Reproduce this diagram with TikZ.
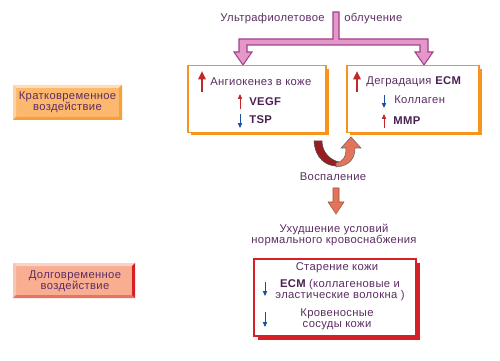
\documentclass[tikz,border=0pt]{standalone}
\usepackage{fontspec}
\setmainfont{Liberation Sans}[LetterSpace=3]
\usetikzlibrary{arrows.meta,shadows}

\definecolor{txtpurple}{HTML}{5B2C62}
\definecolor{boldpurple}{HTML}{4A1F52}
\definecolor{boxorange}{HTML}{F7941D}
\definecolor{boxred}{HTML}{D91F26}
\definecolor{uvpink}{HTML}{E597C8}
\definecolor{uvline}{HTML}{A0428F}
\definecolor{arrred}{HTML}{C1272D}
\definecolor{arrblue}{HTML}{1B4F9C}
\definecolor{infldark}{HTML}{9B1C20}
\definecolor{inflsalmon}{HTML}{E3735A}
\definecolor{shortfill}{HTML}{FDB870}
\definecolor{shortlight}{HTML}{FEDDB8}
\definecolor{shortdark}{HTML}{F7A035}
\definecolor{longfill}{HTML}{F9AE92}
\definecolor{longlight}{HTML}{FBD3C5}
\definecolor{longdark}{HTML}{E8735E}

\begin{document}
\begin{tikzpicture}[x=0.02cm, y=-0.02cm, >=latex]

% --- Styles ---
\tikzset{
    txt/.style={text=txtpurple, font=\fontsize{6.4}{6.3}\selectfont, inner sep=0pt},
    boldtxt/.style={text=boldpurple, font=\fontsize{6.4}{6.3}\selectfont\bfseries, inner sep=0pt},
    topbox/.style={draw=boxorange, line width=0.6pt, fill=white,
        drop shadow={fill=boxorange, opacity=1, shadow xshift=0.06cm, shadow yshift=-0.06cm}},
    longbox/.style={draw=boxred, line width=0.6pt, fill=white,
        drop shadow={fill=boxred, opacity=1, shadow xshift=0.08cm, shadow yshift=-0.08cm}},
    bigup/.style={draw=arrred, line width=1.2pt, -{Triangle[length=4.8pt,width=4.2pt]}},
    smallup/.style={draw=arrred, line width=0.5pt, -{Triangle[length=2.8pt,width=2.4pt]}},
    smalldown/.style={draw=arrblue, line width=0.5pt, -{Triangle[length=2.8pt,width=2.4pt]}},
    blockarrow/.style={fill=uvpink, draw=uvline, line width=0.6pt, line join=miter}
}

\useasboundingbox (0,0) rectangle (500,361);

% --- UV-облучение (T-pijl) ---
\node[txt, anchor=east] (uvleft) at (325,19) {Ультрафиолетовое};
\node[txt, anchor=west] (uvright) at (344,19) {облучение};
\path[blockarrow] (333,12) -- (339,12) -- (339,39) -- (428,39) -- (428,52) -- (433,52)
    -- (424,65) -- (415,52) -- (420,52) -- (420,45) -- (247,45) -- (247,52) -- (252,52)
    -- (243,65) -- (234,52) -- (239,52) -- (239,39) -- (333,39) -- cycle;

% --- Box links: angiogenese ---
\node[topbox, minimum width=2.76cm, minimum height=1.34cm] (angio) at (257,99) {};
\draw[bigup] (202,92) -- (202,71);
\node[txt, anchor=west] (angiotxt) at (210,82) {Ангиокенез в коже};
\draw[smallup] (240,109) -- (240,94);
\node[boldtxt, anchor=west] (vegf) at (249,102) {VEGF};
\draw[smalldown] (240,114) -- (240,128);
\node[boldtxt, anchor=west] (tsp) at (249,120) {TSP};

% --- Box rechts: ECM ---
\node[topbox, minimum width=2.64cm, minimum height=1.34cm] (ecm) at (413,99) {};
\draw[bigup] (357,92) -- (357,71);
\node[txt, anchor=west] (ecmtxt) at (366,82) {Деградация \textbf{\color{boldpurple}ECM}};
\draw[smalldown] (384,95) -- (384,108);
\node[txt, anchor=west] (collagen) at (394,100) {Коллаген};
\draw[smallup] (384,128) -- (384,114);
\node[boldtxt, anchor=west] (mmp) at (393,121) {MMP};

% --- Ontsteking (gebogen pijlen) ---
\path[fill=infldark, draw=black!70, line width=0.3pt]
    (314,141) .. controls (315,158) and (326,167) .. (339,166)
    -- (339,162) .. controls (330,160) and (322,152) .. (322,141) -- cycle;
\path[fill=inflsalmon, draw=black!60, line width=0.3pt]
    (336,167) .. controls (350,166) and (355,158) .. (355,148)
    -- (361,148) -- (351,137) -- (341,148) -- (346,148)
    .. controls (346,157) and (343,162) .. (336,163) -- cycle;
\node[txt] (inflam) at (333,177) {Воспаление};

\path[fill=inflsalmon, draw=inflsalmon!70!black, line width=0.3pt]
    (333,188) -- (339,188) -- (339,202) -- (344,202) -- (336,214) -- (328,202) -- (333,202) -- cycle;
\node[txt, align=center] (blood) at (334,235) {Ухудшение условий\\нормального кровоснабжения};

% --- Box onder: veroudering ---
\node[longbox, minimum width=3.24cm, minimum height=1.54cm] (aging) at (335,297.5) {};
\node[txt] (agingtxt) at (337,268) {Старение кожи};
\draw[smalldown] (265,282) -- (265,296);
\node[txt, align=center] (fibres) at (340,290) {\textbf{\color{boldpurple}ECM} (коллагеновые и\\эластические волокна )};
\draw[smalldown] (265,312) -- (265,327);
\node[txt, align=center] (vessels) at (337,319.5) {Кровеносные\\сосуды кожи};

% --- Labels links ---
\fill[shortfill] (13,85) rectangle (122,120);
\fill[shortlight] (13,85) -- (122,85) -- (119,88) -- (16,88) -- cycle;
\fill[shortlight!70!shortfill] (13,85) -- (16,88) -- (16,117) -- (13,120) -- cycle;
\fill[shortdark] (13,120) -- (122,120) -- (119,117) -- (16,117) -- cycle;
\fill[shortdark] (122,85) -- (122,120) -- (119,117) -- (119,88) -- cycle;
\node[txt, align=center] (shortterm) at (67.5,102.5) {Кратковременное\\воздействие};

\fill[longfill] (13,263) rectangle (135,298);
\fill[longlight] (13,263) -- (135,263) -- (132,266) -- (16,266) -- cycle;
\fill[longlight!60!longfill] (13,263) -- (16,266) -- (16,295) -- (13,298) -- cycle;
\fill[longdark] (13,298) -- (135,298) -- (132,295) -- (16,295) -- cycle;
\fill[boxred] (135,263) -- (135,298) -- (132,295) -- (132,266) -- cycle;
\node[txt, align=center] (longterm) at (75,281) {Долговременное\\воздействие};

\end{tikzpicture}
\end{document}
